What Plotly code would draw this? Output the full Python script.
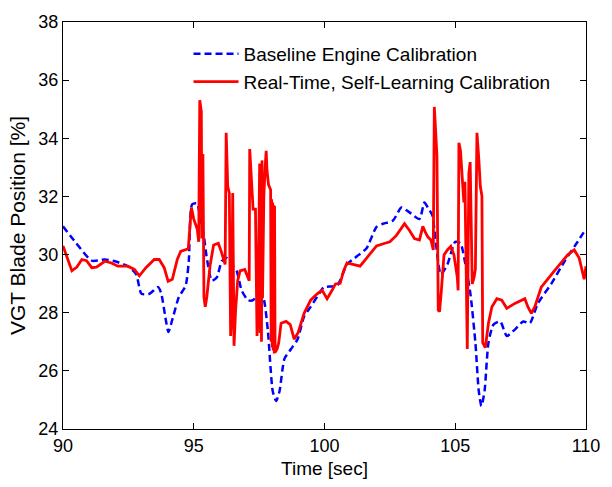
import plotly.graph_objects as go

# Baseline engine calibration: VGT blade position over time
base_time = [90.0, 90.5, 91.1, 91.6, 91.98, 92.48, 92.8, 93.0, 93.3, 93.64, 93.76, 93.93,
             94.03, 94.18, 94.43, 94.69, 94.81, 94.94, 95.13, 95.25, 95.38, 95.5, 95.69,
             95.88, 96.07, 96.26, 96.45, 96.64, 96.83, 97.08, 97.27, 97.46, 97.65, 97.83,
             98.02, 98.15, 98.28, 98.47, 98.72, 98.97, 99.22, 99.47, 99.79, 99.98, 100.48,
             100.86, 101.24, 101.61, 101.99, 102.24, 102.62, 102.94, 103.25, 103.63, 103.82,
             103.95, 104.13, 104.2, 104.45, 104.7, 105.0, 105.2, 105.39, 105.58, 105.77,
             105.9, 106.0, 106.12, 106.27, 106.46, 106.72, 106.97, 107.28, 107.6, 107.85,
             108.16, 108.67, 109.18, 109.68, 110.0]
base_pos = [30.97, 30.4, 29.79, 29.83, 29.77, 29.6, 29.32, 28.65, 28.65, 28.88, 28.65, 27.76,
            27.34, 27.76, 28.54, 28.93, 29.77, 31.73, 31.76, 31.22, 30.67, 29.88, 29.1,
            29.21, 29.77, 29.88, 29.66, 29.44, 28.77, 28.43, 28.43, 28.65, 28.54, 27.42,
            25.3, 24.96, 25.3, 26.42, 26.75, 27.09, 27.87, 28.2, 28.65, 28.88, 28.93,
            29.66, 29.94, 30.22, 30.95, 31.06, 31.17, 31.62, 31.45, 31.22, 31.79,
            31.62, 31.34, 30.89, 29.32, 29.66, 30.44, 30.39, 29.66, 28.65, 26.97,
            25.3, 24.79, 25.3, 26.97, 27.59, 27.7, 27.2, 27.42, 27.7, 27.64,
            28.32, 28.99, 29.77, 30.44, 30.89]

# Real-time, self-learning calibration: VGT blade position over time
learn_time = [90.0, 90.34, 90.53, 90.72, 90.9, 91.1, 91.28, 91.6, 91.85, 92.1, 92.48, 92.73,
              92.92, 93.17, 93.49, 93.68, 93.87, 94.02, 94.18, 94.37, 94.5, 94.69, 94.79,
              94.91, 95.0, 95.13, 95.19, 95.23, 95.29, 95.31, 95.35, 95.39, 95.44, 95.5,
              95.63, 95.76, 95.94, 96.05, 96.13, 96.2, 96.24, 96.3, 96.36, 96.41, 96.45,
              96.49, 96.54, 96.6, 96.68, 96.77, 96.95, 97.08, 97.12, 97.14, 97.2, 97.27,
              97.36, 97.42, 97.46, 97.5, 97.52, 97.54, 97.57, 97.59, 97.61, 97.63, 97.68,
              97.73, 97.77, 97.8, 97.86, 97.94, 97.96, 97.98, 98.0, 98.02, 98.04, 98.06,
              98.08, 98.09, 98.11, 98.19, 98.25, 98.34, 98.53, 98.69, 98.84, 98.99, 99.22,
              99.47, 99.72, 99.91, 100.1, 100.29, 100.42, 100.6, 100.73, 100.86, 101.11,
              101.36, 101.61, 101.99, 102.31, 102.5, 102.75, 103.06, 103.25, 103.44, 103.63,
              103.76, 103.85, 103.95, 104.07, 104.16, 104.2, 104.26, 104.3, 104.35, 104.4,
              104.47, 104.57, 104.7, 104.83, 104.95, 105.08, 105.11, 105.14, 105.2, 105.29,
              105.33, 105.37, 105.44, 105.46, 105.52, 105.57, 105.65, 105.72, 105.77, 105.83,
              105.9, 105.96, 106.02, 106.05, 106.15, 106.27, 106.4, 106.59, 106.78, 106.97,
              107.28, 107.66, 107.78, 107.91, 108.04, 108.29, 108.79, 109.3, 109.55, 109.74,
              109.93, 110.0]
learn_pos = [30.3, 29.44, 29.57, 29.83, 29.79, 29.55, 29.57, 29.77, 29.71, 29.6, 29.6, 29.49,
             29.27, 29.55, 29.83, 29.83, 29.55, 29.08, 29.15, 29.83, 30.11, 30.16, 30.2,
             31.62, 31.22, 30.89, 30.44, 35.31, 34.92, 30.55, 33.46, 28.54, 28.2, 28.54,
             29.66, 30.33, 30.39, 30.11, 29.83, 29.66, 34.19, 32.34, 32.12, 27.2, 27.87,
             32.12, 26.86, 28.09, 29.1, 29.44, 29.49, 29.21, 29.1, 33.63, 32.68, 31.56,
             31.56, 27.2, 28.09, 32.4, 33.13, 27.3, 32.5, 27.0, 33.24, 28.5, 32.0,
             33.0, 33.57, 32.9, 32.4, 32.23, 27.0, 31.9, 26.8, 31.79, 26.7, 31.7,
             26.6, 31.67, 26.64, 26.75, 26.97, 27.64, 27.7, 27.59, 27.09, 27.31, 27.98,
             28.43, 28.65, 28.77, 28.48, 28.77, 28.99, 29.01, 29.44, 29.71, 29.66,
             29.6, 29.88, 30.3, 30.39, 30.44, 30.66, 31.06, 30.83, 30.55, 30.5,
             30.97, 30.78, 30.61, 30.5, 30.16, 35.08, 34.02, 33.4, 28.09, 28.04,
             28.77, 29.99, 30.16, 30.28, 29.99, 29.21, 28.77, 33.85, 33.57, 32.12,
             31.79, 32.5, 26.86, 26.75, 32.79, 33.18, 28.99, 29.21, 29.5, 34.19,
             33.3, 32.34, 32.01, 26.97, 26.8, 27.64, 28.2, 28.48, 28.43, 28.15,
             28.32, 28.48, 28.2, 27.98, 28.2, 28.88, 29.44, 29.99, 30.16, 29.88,
             29.15, 29.6]

x_ticks = [90, 95, 100, 105, 110]
y_ticks = [24, 26, 28, 30, 32, 34, 36, 38]

FONT = "Arial, Liberation Sans, sans-serif"

fig = go.Figure()
fig.add_trace(go.Scatter(
    x=base_time, y=base_pos, mode="lines",
    name="Baseline Engine Calibration",
    line=dict(color="#0000ff", width=2.5, dash="7px,4px", shape="spline", smoothing=0.6),
))
fig.add_trace(go.Scatter(
    x=learn_time, y=learn_pos, mode="lines",
    name="Real-Time, Self-Learning Calibration",
    line=dict(color="#ff0000", width=2.8),
))

axis_common = dict(
    showline=True, linecolor="black", linewidth=1.3, mirror="ticks",
    ticks="inside", ticklen=6, tickwidth=1, tickcolor="black",
    showgrid=False, zeroline=False,
    tickfont=dict(family=FONT, size=18, color="black"),
)

fig.update_layout(
    width=612, height=487,
    margin=dict(l=63, r=19, t=18, b=52),
    paper_bgcolor="white", plot_bgcolor="white",
    font=dict(family=FONT, size=18, color="black"),
    xaxis=dict(range=[90, 110], tickvals=x_ticks, ticktext=[str(v) for v in x_ticks],
               title=dict(text="Time [sec]", font=dict(family=FONT, size=19), standoff=6),
               **axis_common),
    yaxis=dict(range=[24, 38], tickvals=y_ticks, ticktext=[str(v) for v in y_ticks],
               title=dict(text="VGT Blade Position [%]", font=dict(family=FONT, size=21), standoff=6),
               **axis_common),
    legend=dict(x=0.24, y=0.968, xanchor="left", yanchor="top",
                bgcolor="rgba(0,0,0,0)", borderwidth=0,
                font=dict(family=FONT, size=19, color="black"),
                itemwidth=45, tracegroupgap=0),
    showlegend=True,
)

fig.write_html("out.html")
